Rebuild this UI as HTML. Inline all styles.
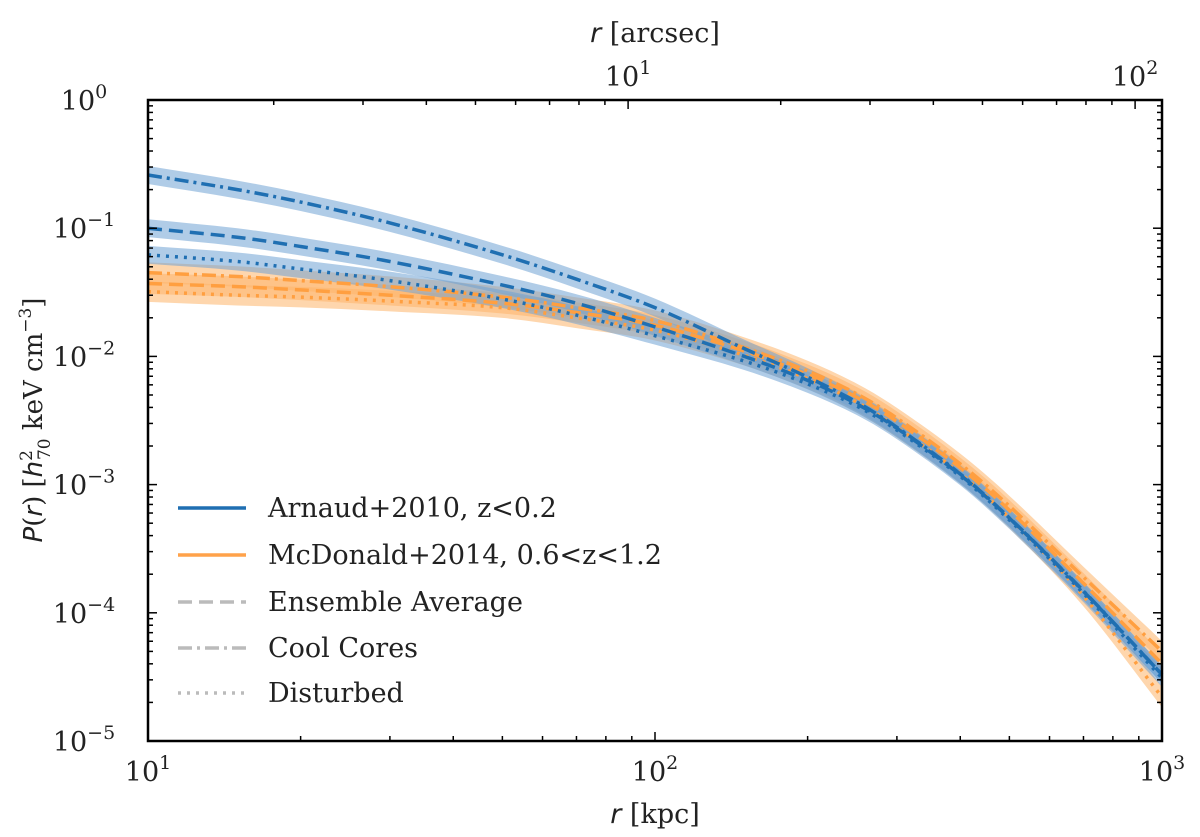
<!DOCTYPE html>
<html><head><meta charset="utf-8">
<style>
html,body{margin:0;padding:0;background:#fff;}
svg{display:block;font-family:"DejaVu Serif","Liberation Serif",serif;}
</style></head>
<body>
<svg id="chart" width="1200" height="837" viewBox="0 0 1200 837" xmlns="http://www.w3.org/2000/svg">
<g id="bands"></g>
<g id="lines"></g>
<g id="axes"></g>
<g id="legend"></g>
</svg>
<script>
const radii = [10,15,20,30,50,70,100,150,200,250,300,400,500,700,1000];
const blueCoolCore = [0.26,0.2,0.16,0.11,0.062,0.04,0.024,0.0115,0.0069,0.0044,0.0028,0.00121,0.00055,0.000148,3.3e-5];
const blueEnsemble = [0.10,0.085,0.072,0.055,0.036,0.026,0.017,0.0100,0.0065,0.00426,0.00275,0.00119,0.000547,0.000147,3.3e-5];
const blueDisturbed = [0.062,0.055,0.048,0.039,0.028,0.021,0.0145,0.0092,0.0061,0.0041,0.00266,0.00116,0.00053,0.000142,3.1e-5];
const orangeCoolCore = [0.045,0.042,0.039,0.035,0.029,0.024,0.019,0.0117,0.0077,0.0051,0.0033,0.00145,0.00068,0.00019,5.0e-5];
const orangeEnsemble = [0.037,0.035,0.033,0.030,0.026,0.022,0.0175,0.011,0.0072,0.0048,0.0031,0.00135,0.00063,0.00017,4.0e-5];
const orangeDisturbed = [0.032,0.030,0.029,0.027,0.024,0.020,0.016,0.0102,0.0067,0.0044,0.0028,0.00122,0.00055,0.000135,2.2e-5];
const blueBandDex = 0.07;
const orangeBandDex = 0.08;
const yTickLabels = ["0","-1","-2","-3","-4","-5"];
const xTickLabels = ["1","2","3"];
const topTickLabels = ["1","2"];

const NS="http://www.w3.org/2000/svg";
const L=148,R=1162,T=100,B=741;
const X=v=>L+(Math.log10(v)-1)/2*(R-L);
const Y=v=>T+(0-Math.log10(v))/5*(B-T);
const kpcPerArcsec=8.85;
const XA=a=>X(a*kpcPerArcsec);
function el(tag,attrs,parent){const e=document.createElementNS(NS,tag);for(const k in attrs)e.setAttribute(k,attrs[k]);parent.appendChild(e);return e;}
function segs(pts){
 const n=pts.length,m=[];
 for(let i=0;i<n;i++){const a=pts[Math.max(i-1,0)],b=pts[Math.min(i+1,n-1)];m.push((b[1]-a[1])/(b[0]-a[0]));}
 let d="";
 for(let i=0;i<n-1;i++){const p1=pts[i],p2=pts[i+1],dx=(p2[0]-p1[0])/3;
  d+=" C"+(p1[0]+dx)+","+(p1[1]+m[i]*dx)+" "+(p2[0]-dx)+","+(p2[1]-m[i+1]*dx)+" "+p2[0]+","+p2[1];}
 return d;}
function hermite(pts){return "M"+pts[0][0]+","+pts[0][1]+segs(pts);}
const bands=document.getElementById('bands'),lines=document.getElementById('lines'),axes=document.getElementById('axes'),legend=document.getElementById('legend');
const series=[
 {v:orangeEnsemble,c:"#ff9f40",f:"#fdb46a",dex:orangeBandDex,dash:"14,7",n:"orange-ensemble"},
 {v:orangeCoolCore,c:"#ff9f40",f:"#fdb46a",dex:orangeBandDex,dash:"14,5,3,5",n:"orange-cool-core"},
 {v:orangeDisturbed,c:"#ff9f40",f:"#fdb46a",dex:orangeBandDex,dash:"3,6",n:"orange-disturbed"},
 {v:blueCoolCore,c:"#1f6fb2",f:"#6fa3d3",dex:blueBandDex,dash:"14,5,3,5",n:"blue-cool-core"},
 {v:blueEnsemble,c:"#1f6fb2",f:"#6fa3d3",dex:blueBandDex,dash:"14,7",n:"blue-ensemble"},
 {v:blueDisturbed,c:"#1f6fb2",f:"#6fa3d3",dex:blueBandDex,dash:"3,6",n:"blue-disturbed"}];
series.forEach(s=>{
 const up=radii.map((r,i)=>[X(r),Y(s.v[i]*Math.pow(10,s.dex))]);
 const lo=radii.map((r,i)=>[X(r),Y(s.v[i]/Math.pow(10,s.dex))]).reverse();
 const d=hermite(up)+" L"+lo[0][0]+","+lo[0][1]+segs(lo)+" Z";
 const b=el('path',{d:d,fill:s.f,'fill-opacity':0.55,stroke:'none'},bands);
 
 
});
series.forEach(s=>{
 const p=el('path',{d:hermite(radii.map((r,i)=>[X(r),Y(s.v[i])])),fill:'none',stroke:s.c,'stroke-width':3.5,'stroke-dasharray':s.dash},lines);
 
 
});
const fr=el('rect',{x:L,y:T,width:R-L,height:B-T,fill:'none',stroke:'#000','stroke-width':2.5},axes);


for(let e=1;e<=3;e++){for(let m=1;m<=9;m++){if(e===3&&m>1)break;const x=X(m*Math.pow(10,e));const len=m===1?9:5;
 el('line',{x1:x,y1:B,x2:x,y2:B-len,stroke:'#000','stroke-width':1.5},axes);}}
xTickLabels.forEach((lab,i)=>{const t=el('text',{x:X(Math.pow(10,+lab)),y:781,'font-size':27,'text-anchor':'middle',fill:'#222'},axes);t.innerHTML='10<tspan dy="-12" font-size="19">'+lab+'</tspan>';
 
 });
for(let e=0;e<=2;e++){for(let m=1;m<=9;m++){const a=m*Math.pow(10,e);const x=XA(a);if(x<L||x>R)continue;const len=m===1?9:5;
 el('line',{x1:x,y1:T,x2:x,y2:T+len,stroke:'#000','stroke-width':1.5},axes);}}
topTickLabels.forEach(lab=>{const t=el('text',{x:XA(Math.pow(10,+lab)),y:86,'font-size':27,'text-anchor':'middle',fill:'#222'},axes);t.innerHTML='10<tspan dy="-12" font-size="19">'+lab+'</tspan>';
 
 });
for(let e=0;e>=-5;e--){for(let m=1;m<=9;m++){if(e===0&&m>1)break;const y=Y(m*Math.pow(10,e-0));const len=m===1?9:5;
 el('line',{x1:L,y1:y,x2:L+len,y2:y,stroke:'#000','stroke-width':1.5},axes);
 el('line',{x1:R,y1:y,x2:R-len,y2:y,stroke:'#000','stroke-width':1.5},axes);}}
yTickLabels.forEach(lab=>{const y=Y(Math.pow(10,+lab));const t=el('text',{x:84,y:y+10,'font-size':27,'text-anchor':'middle',fill:'#222'},axes);t.innerHTML='10<tspan dy="-12" font-size="19">'+(lab==="0"?"0":lab.replace('-','\u2212'))+'</tspan>';
 
 });
let t=el('text',{x:655,y:823,'font-size':27,'text-anchor':'middle',fill:'#222'},axes);t.innerHTML='<tspan font-style="italic" font-family="DejaVu Sans,sans-serif">r</tspan> [kpc]';

t=el('text',{x:655,y:42,'font-size':27,'text-anchor':'middle',fill:'#222'},axes);t.innerHTML='<tspan font-style="italic" font-family="DejaVu Sans,sans-serif">r</tspan> [arcsec]';

t=el('text',{x:0,y:0,'font-size':26,'text-anchor':'middle',fill:'#222',transform:'translate(42,420) rotate(-90)'},axes);
t.innerHTML='<tspan font-style="italic" font-family="DejaVu Sans,sans-serif">P</tspan>(<tspan font-style="italic" font-family="DejaVu Sans,sans-serif">r</tspan>)  [<tspan font-style="italic" font-family="DejaVu Sans,sans-serif">h</tspan><tspan dy="-10" font-size="17">2</tspan><tspan dy="18" dx="-10" font-size="17">70</tspan><tspan dy="-8"> keV cm</tspan><tspan dy="-11" font-size="17">\u22123</tspan><tspan dy="11">]</tspan>';

const legItems=[["Arnaud+2010, z<0.2","#1f6fb2",null],["McDonald+2014, 0.6<z<1.2","#ffa24a",null],["Ensemble Average","#bbb","14,7"],["Cool Cores","#bbb","14,5,3,5"],["Disturbed","#bbb","3,6"]];
const legY=[508,555,602,648,693];
legItems.forEach((it,i)=>{const g=el('g',{},legend);
 const a={x1:178,y1:legY[i],x2:246,y2:legY[i],stroke:it[1],'stroke-width':3.5};if(it[2])a['stroke-dasharray']=it[2];el('line',a,g);
 const tx=el('text',{x:268,y:legY[i]+9,'font-size':27,fill:'#222'},g);tx.textContent=it[0];});
</script>
</body></html>
